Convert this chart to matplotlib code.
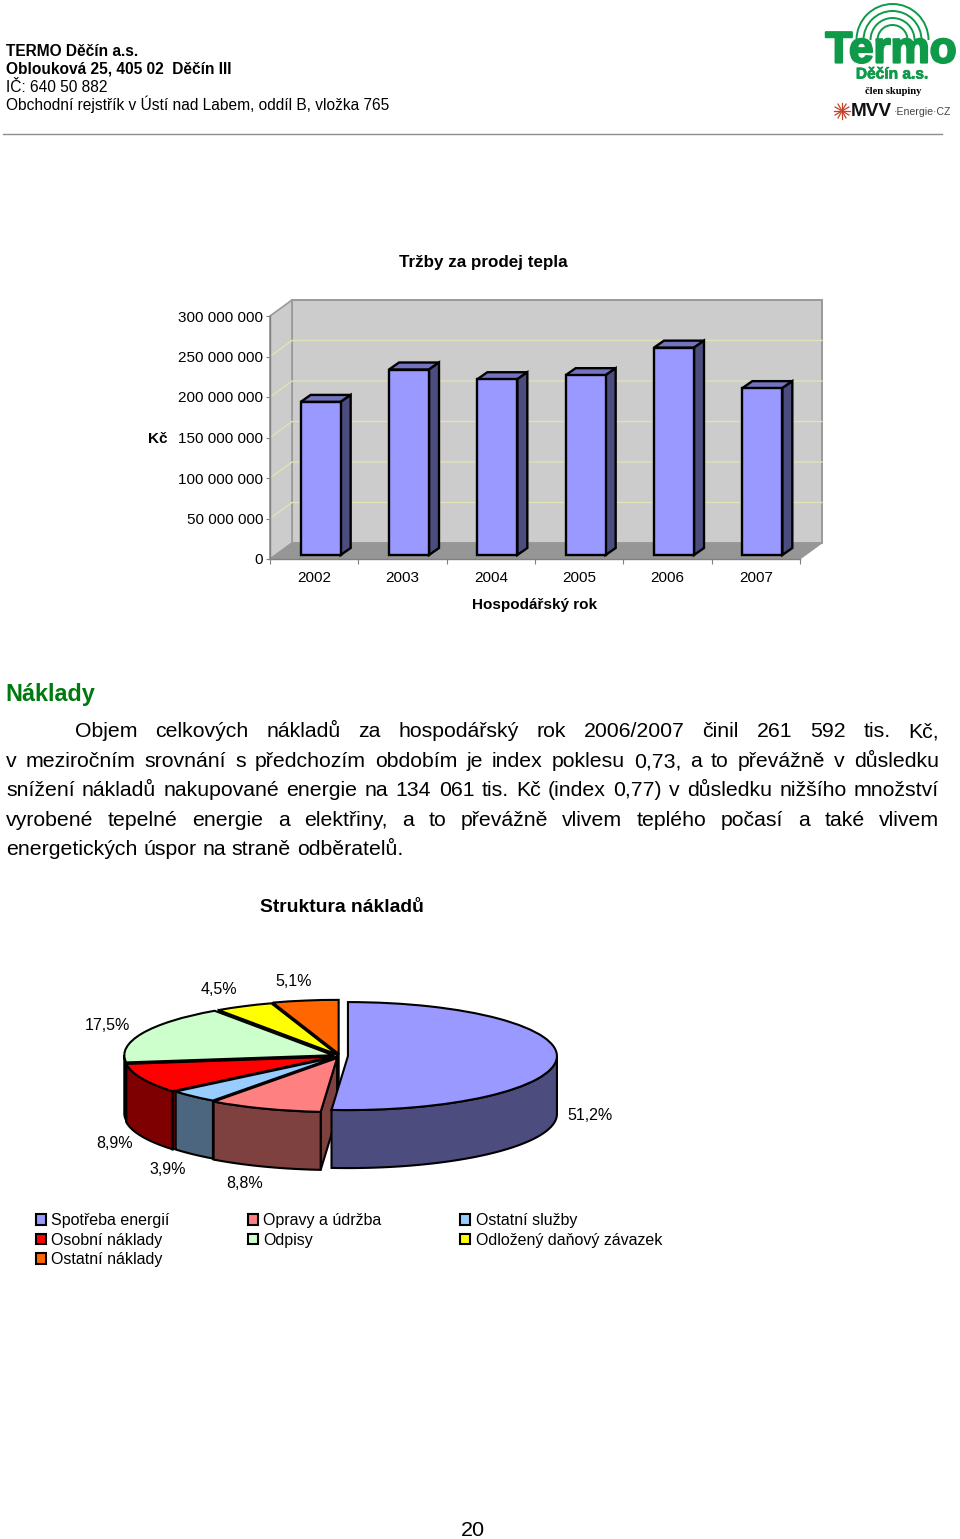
import numpy as np
import matplotlib
matplotlib.use("Agg")
import matplotlib.pyplot as plt
from matplotlib.patches import Arc
from matplotlib.ticker import FuncFormatter
import matplotlib.patheffects as pe

W, H = 960, 1539
plt.rcParams['font.family'] = ['Liberation Sans', 'DejaVu Sans']

# ---- data ----
years = ['2002', '2003', '2004', '2005', '2006', '2007']
revenues = [189e6, 229e6, 217e6, 222e6, 256e6, 206e6]
y_ticks = [0, 50e6, 100e6, 150e6, 200e6, 250e6, 300e6]

cost_labels = ['Spotřeba energií', 'Opravy a údržba', 'Ostatní služby', 'Osobní náklady',
               'Odpisy', 'Odložený daňový závazek', 'Ostatní náklady']
cost_shares = [51.2, 8.8, 3.9, 8.9, 17.5, 4.5, 5.1]
cost_explode = [0.038, 0.04, 0.025, 0.035, 0.035, 0.03, 0.04]
cost_colors = ['#9999FF', '#FF8080', '#99CCFF', '#FF0000', '#CCFFCC', '#FFFF00', '#FF6600']
wall_colors = ['#4C4C7F', '#7F4040', '#4C667F', '#7F0000', '#667F66', '#7F7F00', '#7F3300']
share_label_xy = [(590, 1115), (244.5, 1183), (167.5, 1170), (115, 1144), (107, 1026), (218.5, 989), (294, 982)]

header = [('TERMO Děčín a.s.', 'bold', 56), ('Oblouková 25, 405 02  Děčín III', 'bold', 74),
          ('IČ: 640 50 882', 'normal', 92),
          ('Obchodní rejstřík v Ústí nad Labem, oddíl B, vložka 765', 'normal', 110)]
para = [('Objem celkových nákladů za hospodářský rok 2006/2007 činil 261 592 tis. Kč,', 75, 737, True),
        ('v meziročním srovnání s předchozím obdobím je index poklesu 0,73, a to převážně v důsledku', 6, 767, True),
        ('snížení nákladů nakupované energie na 134 061 tis. Kč (index 0,77) v důsledku nižšího množství', 6, 796, True),
        ('vyrobené tepelné energie a elektřiny, a to převážně vlivem teplého počasí a také vlivem', 6, 826, True),
        ('energetických úspor na straně odběratelů.', 6, 855, False)]

def rect(l, t, r, b):
    return [l / W, 1 - b / H, (r - l) / W, (b - t) / H]

def pt(px):
    return px * 0.72

fig = plt.figure(figsize=(W / 100, H / 100), dpi=100, facecolor='white')

# ---- 3D column chart ----
ax = fig.add_axes(rect(270, 316, 800, 559))
ax.set_xlim(0, 6)
ax.set_ylim(0, 3e8)
ax.patch.set_visible(False)
px_x = 6 / 530
px_y = 3e8 / 243
dx, dy = 22 * px_x, 16 * px_y
GRID = '#E2E2B4'
EDGE = '#999999'
ax.fill([dx, 6 + dx, 6 + dx, dx], [dy, dy, 3e8 + dy, 3e8 + dy], fc='#CCCCCC', ec=EDGE, lw=1.4, clip_on=False, zorder=1)
ax.fill([0, dx, dx, 0], [0, dy, 3e8 + dy, 3e8], fc='#CCCCCC', ec=EDGE, lw=1.2, clip_on=False, zorder=1)
ax.fill([0, dx, 6 + dx, 6], [0, dy, dy, 0], fc='#969696', ec=EDGE, lw=0.8, clip_on=False, zorder=1.1)
for t in y_ticks[1:-1]:
    ax.plot([0, dx, 6 + dx], [t, t + dy, t + dy], color=GRID, lw=1, clip_on=False, zorder=1.05)

bar_x = np.arange(len(years)) + 0.5 + 6.5 * px_x
bw = 40 * px_x
base = 4 * px_y
ddx, ddy = 10 * px_x, 7 * px_y
ax.bar(bar_x, revenues, width=bw, bottom=base, color='#9999FF', edgecolor='black', lw=1.7, zorder=3, clip_on=False)
for x, v in zip(bar_x, revenues):
    l, r, top = x - bw / 2, x + bw / 2, v + base
    ax.fill([l, r, r + ddx, l + ddx], [top, top, top + ddy, top + ddy], fc='#7373BF', ec='black', lw=1.7, zorder=2.9, clip_on=False)
    ax.fill([r, r + ddx, r + ddx, r], [base, base + ddy, top + ddy, top], fc='#4C4C7F', ec='black', lw=1.7, zorder=2.9, clip_on=False)

for s in ('top', 'right'):
    ax.spines[s].set_visible(False)
for s in ('left', 'bottom'):
    ax.spines[s].set_color('#808080')
    ax.spines[s].set_linewidth(1)
    ax.spines[s].set_zorder(2)
ax.set_yticks(y_ticks)
ax.yaxis.set_major_formatter(FuncFormatter(lambda v, _: f'{int(v):,}'.replace(',', ' ')))
ax.set_xticks(range(7))
ax.set_xticklabels([])
ax.set_xticks(np.arange(6) + 0.5, labels=years, minor=True)
ax.tick_params(axis='x', which='minor', length=0, pad=9, labelsize=pt(15.3))
ax.tick_params(axis='x', which='major', length=3.5, color='#808080')
ax.tick_params(axis='y', length=3, color='#808080', pad=2, labelsize=pt(15.3))

# ---- 3D pie chart ----
pie = fig.add_axes(rect(340 - 209, 1056 - 54, 340 + 209, 1056 + 54))
wedges, _ = pie.pie(cost_shares, explode=cost_explode,
                    startangle=90, counterclock=False, colors=cost_colors, radius=1,
                    wedgeprops=dict(edgecolor='black', linewidth=1.5))
pie.set_aspect('auto')
pie.set_xlim(-1, 1)
pie.set_ylim(-1, 1)
thick = 58 / 54
for w, wc in zip(wedges, wall_colors):
    w.set_zorder(3)
    w.set_clip_on(False)
    cx, cy = w.center
    # visible outer wall lies in the lower half of the ellipse
    a, b = max(w.theta1, -180), min(w.theta2, 0)
    if b > a:
        t = np.radians(np.linspace(a, b, 60))
        xs, ys = cx + w.r * np.cos(t), cy + w.r * np.sin(t)
        pie.fill(np.r_[xs, xs[::-1]], np.r_[ys, ys[::-1] - thick], fc=wc, ec='black', lw=1.5, zorder=2, clip_on=False)
for w, wc in list(zip(wedges, wall_colors))[::-1]:
    th = np.radians(w.theta2)
    if np.cos(th) < -1e-6:
        cx, cy = w.center
        ex, ey = cx + w.r * np.cos(th), cy + w.r * np.sin(th)
        pie.fill([cx, ex, ex, cx], [cy, ey, ey - thick, cy - thick], fc=wc, ec='black', lw=1.5, zorder=1, clip_on=False)

order = [0, 3, 6, 1, 4, 2, 5]
pie.legend([wedges[i] for i in order], [cost_labels[i] for i in order], ncol=3, frameon=False,
           loc='upper left', bbox_to_anchor=(36 / W, 1 - 1213 / H), bbox_transform=fig.transFigure,
           prop=dict(size=pt(16)), handlelength=0.62, handleheight=0.62, handletextpad=0.32,
           columnspacing=4.93, labelspacing=0.29, borderpad=0, borderaxespad=0)

# ---- page overlay (text, rule, logo) ----
page = fig.add_axes([0, 0, 1, 1], zorder=10)
page.set_xlim(0, W)
page.set_ylim(H, 0)
page.axis('off')

for s, weight, y in header:
    page.text(6, y, s, fontsize=pt(15.5), fontweight=weight, va='baseline', color='black')
page.plot([3, 942], [133.5, 133.5], color='#8C8C8C', lw=1)

page.text(483.5, 262, 'Tržby za prodej tepla', fontsize=pt(17), fontweight='bold', ha='center', va='center')
page.text(158, 439, 'Kč', fontsize=pt(15.3), fontweight='bold', ha='center', va='center')
page.text(535, 605, 'Hospodářský rok', fontsize=pt(15.3), fontweight='bold', ha='center', va='center')
page.text(5, 695, 'Náklady', fontsize=pt(23.4), fontweight='bold', color='#007A0F', va='center')
page.text(342, 908, 'Struktura nákladů', fontsize=pt(19.3), fontweight='bold', ha='center', va='center')
page.text(472.5, 1530, '20', fontsize=pt(21.5), ha='center', va='center')

renderer = fig.canvas.get_renderer()
RIGHT = 939
for s, x0, yb, justify in para:
    words = s.split(' ')
    widths = []
    for wd in words:
        t = page.text(0, 0, wd, fontsize=pt(21.3))
        widths.append(t.get_window_extent(renderer).width)
        t.remove()
    if justify:
        gap = (RIGHT - x0 - sum(widths)) / (len(words) - 1)
    else:
        gap = 21.3 * 0.278
    x = x0
    for wd, wi in zip(words, widths):
        page.text(x, yb, wd, fontsize=pt(21.3), va='baseline')
        x += wi + gap

for (lx, ly), v in zip(share_label_xy, cost_shares):
    page.text(lx, ly, f'{v:.1f}%'.replace('.', ','), fontsize=pt(16), ha='center', va='center')

# logo
GREEN = '#0F9A4A'
for r in (36, 29, 22, 15):
    page.add_patch(Arc((892.5, 40), 2 * r, 2 * r, theta1=180, theta2=360, color=GREEN, lw=1.4))
page.text(891, 51, 'Termo', fontsize=pt(44), fontweight='bold', color=GREEN, ha='center', va='center',
          path_effects=[pe.withStroke(linewidth=1.6, foreground=GREEN)])
page.text(892, 74, 'Děčín a.s.', fontsize=pt(15.5), fontweight='bold', color=GREEN, ha='center', va='center',
          path_effects=[pe.withStroke(linewidth=0.5, foreground=GREEN)])
page.text(893, 91, 'člen skupiny', fontsize=pt(10.5), fontweight='bold', family='Liberation Serif', ha='center', va='center')
for ang in np.arange(0, 180, 30):
    c, s = np.cos(np.radians(ang)), np.sin(np.radians(ang))
    page.plot([842 - 8 * c, 842 + 8 * c], [111 - 8 * s, 111 + 8 * s], color='#C8402A', lw=0.9)
page.text(851, 111, 'MVV', fontsize=pt(19), fontweight='bold', color='#111111', va='center')
page.text(894, 112, '·Energie·CZ', fontsize=pt(10.5), color='#444444', va='center')

fig.savefig('out.png', dpi=100, facecolor='white')
